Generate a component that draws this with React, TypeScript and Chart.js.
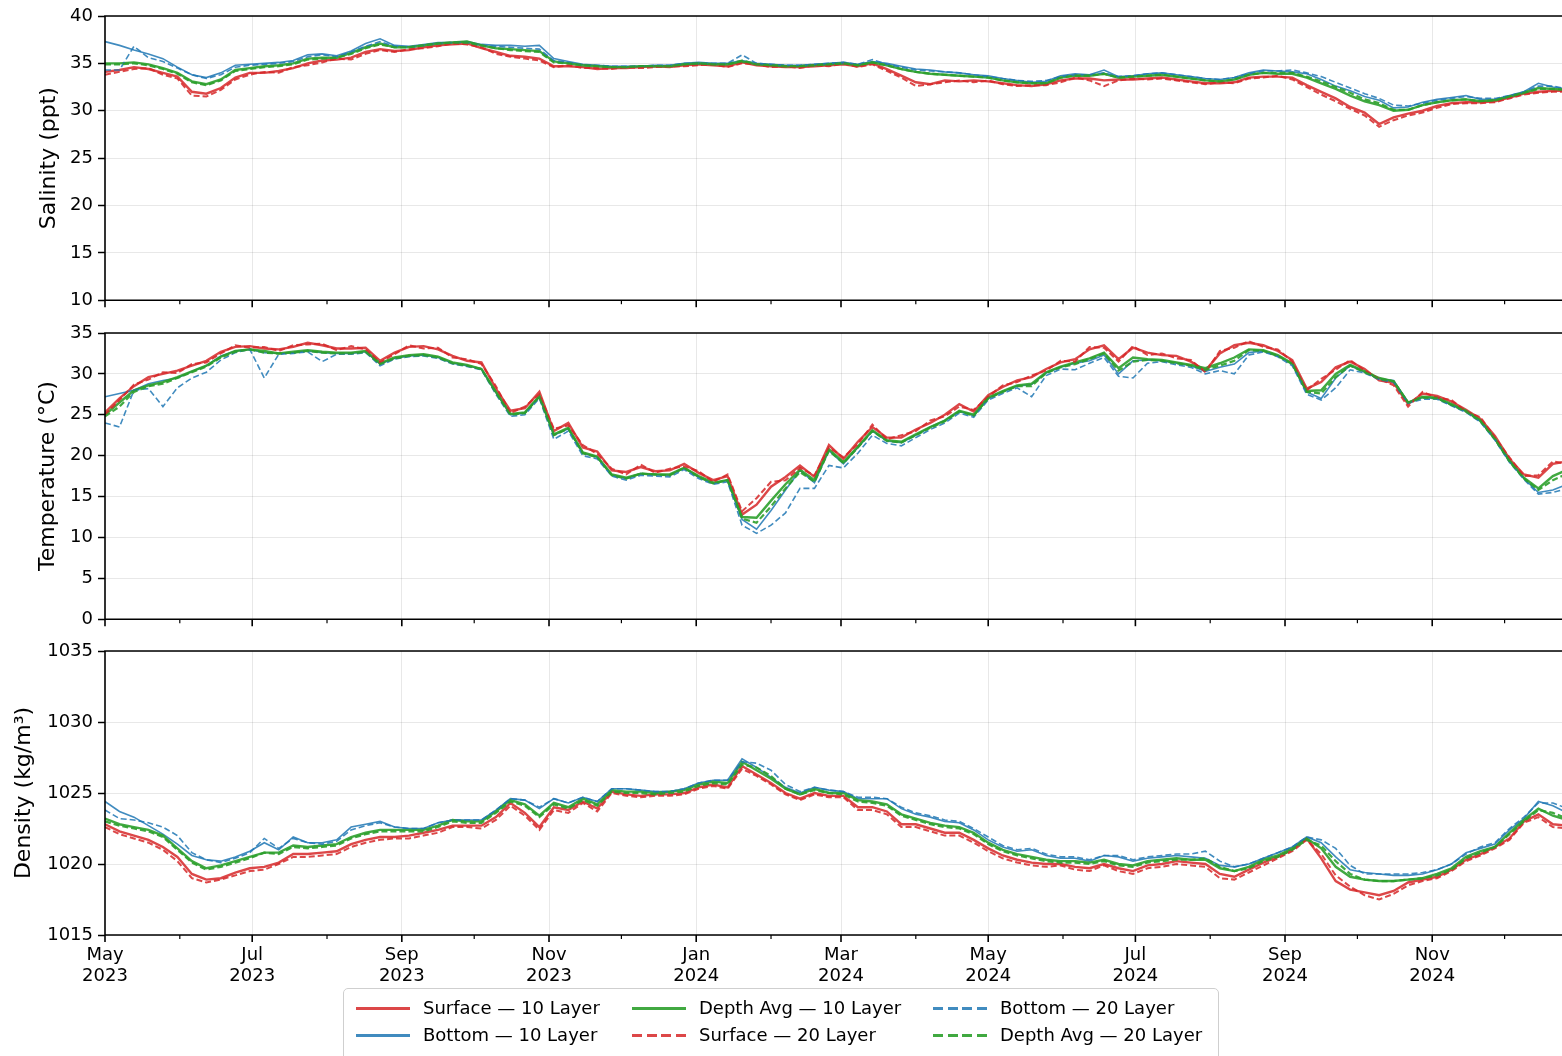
import React, { useEffect, useRef } from 'react';
import { Chart, registerables } from 'chart.js';

Chart.register(...registerables);

// ---------------- data ----------------
// sampling: every 6 days from 2023-05-01 (day 0) to day 612
const DAY_STEP = 6;
const N_POINTS = 103;
const DAYS: number[] = Array.from({ length: N_POINTS }, (_, i) => i * DAY_STEP);

// month starts (days since 2023-05-01) and their labels ('' = minor tick)
const MONTH_TICKS = [0, 31, 61, 92, 123, 153, 184, 214, 245, 276, 305, 336, 366, 397, 427, 458, 489, 519, 550, 580];
const MONTH_LABELS: (string | string[])[] = [
  ['May', '2023'], '', ['Jul', '2023'], '', ['Sep', '2023'], '', ['Nov', '2023'], '',
  ['Jan', '2024'], '', ['Mar', '2024'], '', ['May', '2024'], '', ['Jul', '2024'], '',
  ['Sep', '2024'], '', ['Nov', '2024'], '',
];
const X_MIN = 0;
const X_MAX = 610;

const SERIES_LABELS = [
  'Surface — 10 Layer', 'Bottom — 10 Layer', 'Depth Avg — 10 Layer',
  'Surface — 20 Layer', 'Bottom — 20 Layer', 'Depth Avg — 20 Layer',
];

// Salinity (ppt)
const SAL_SURF_10 = [
  34.1, 34.3, 34.6, 34.4, 34.0, 33.6, 32.0, 31.8, 32.4, 33.5,
  34.0, 34.0, 34.2, 34.5, 35.0, 35.3, 35.4, 35.6, 36.2, 36.5,
  36.3, 36.4, 36.7, 36.9, 37.0, 37.1, 36.6, 36.2, 35.8, 35.7,
  35.5, 34.7, 34.7, 34.6, 34.4, 34.5, 34.5, 34.6, 34.7, 34.6,
  34.8, 34.9, 34.8, 34.7, 35.1, 34.8, 34.7, 34.6, 34.6, 34.7,
  34.8, 34.9, 34.7, 35.0, 34.4, 33.7, 33.0, 32.8, 33.2, 33.1,
  33.2, 33.1, 32.9, 32.7, 32.6, 32.8, 33.2, 33.4, 33.4, 33.2,
  33.3, 33.3, 33.4, 33.5, 33.3, 33.1, 32.9, 32.9, 33.0, 33.5,
  33.6, 33.6, 33.5, 32.7, 32.0, 31.3, 30.4, 29.8, 28.6, 29.3,
  29.7, 30.0, 30.5, 30.8, 30.9, 30.9, 31.0, 31.4, 31.8, 32.0,
  32.1, 32.1, 32.1,
];
const SAL_BOT_10 = [
  37.3, 36.9, 36.4, 36.0, 35.5, 34.6, 33.8, 33.5, 34.0, 34.8,
  34.9, 35.0, 35.1, 35.3, 35.9, 36.0, 35.8, 36.3, 37.1, 37.6,
  36.9, 36.8, 37.0, 37.2, 37.2, 37.3, 37.0, 36.9, 36.9, 36.8,
  36.9, 35.5, 35.2, 34.9, 34.8, 34.7, 34.7, 34.7, 34.8, 34.8,
  35.0, 35.1, 35.0, 35.0, 35.3, 35.0, 34.9, 34.8, 34.8, 34.9,
  35.0, 35.1, 34.9, 35.2, 35.0, 34.7, 34.4, 34.3, 34.1, 34.0,
  33.8, 33.7, 33.4, 33.2, 33.0, 33.1, 33.7, 33.9, 33.8, 34.3,
  33.6, 33.7, 33.9, 34.0, 33.8, 33.6, 33.4, 33.3, 33.5, 34.0,
  34.3, 34.2, 34.1, 33.9, 33.3, 32.6, 32.1, 31.5, 31.1, 30.3,
  30.4, 30.9, 31.2, 31.4, 31.6, 31.2, 31.2, 31.6, 32.0, 32.9,
  32.5, 32.3, 32.3,
];
const SAL_AVG_10 = [
  35.0, 35.0, 35.1, 34.9, 34.5, 34.0, 33.1, 32.8, 33.3, 34.3,
  34.5, 34.7, 34.8, 35.0, 35.5, 35.6, 35.6, 36.1, 36.7, 37.1,
  36.7, 36.7, 36.9, 37.1, 37.2, 37.3, 36.9, 36.6, 36.5, 36.4,
  36.3, 35.2, 35.0, 34.8, 34.7, 34.6, 34.6, 34.7, 34.7, 34.7,
  34.9, 35.0, 34.9, 34.9, 35.2, 34.9, 34.8, 34.7, 34.7, 34.8,
  34.9, 35.0, 34.8, 35.1, 34.8, 34.4, 34.1, 33.9, 33.8, 33.7,
  33.6, 33.5, 33.2, 33.0, 32.9, 32.9, 33.5, 33.7, 33.7, 33.9,
  33.5, 33.6, 33.7, 33.8, 33.6, 33.4, 33.2, 33.1, 33.3, 33.8,
  34.0, 33.9, 33.9, 33.5, 32.9, 32.3, 31.6, 31.0, 30.6, 30.0,
  30.1, 30.6, 30.9, 31.1, 31.2, 31.0, 31.1, 31.5, 31.9, 32.4,
  32.3, 32.2, 32.2,
];
const SAL_SURF_20 = [
  33.8, 34.1, 34.4, 34.5, 33.8, 33.4, 31.6, 31.5, 32.2, 33.3,
  33.8, 34.1, 34.0, 34.6, 34.8, 35.1, 35.5, 35.4, 36.0, 36.4,
  36.2, 36.5, 36.6, 36.8, 37.1, 37.0, 36.7, 36.0, 35.7, 35.5,
  35.3, 34.6, 34.8, 34.5, 34.5, 34.4, 34.6, 34.5, 34.6, 34.7,
  34.7, 34.8, 34.9, 34.6, 35.0, 34.9, 34.6, 34.7, 34.5, 34.8,
  34.7, 35.0, 34.6, 34.9, 34.2, 33.5, 32.6, 32.8, 33.0, 33.2,
  33.0, 33.2, 32.8, 32.6, 32.7, 32.7, 33.0, 33.5, 33.2, 32.6,
  33.2, 33.4, 33.3, 33.4, 33.2, 33.0, 32.8, 33.0, 32.9, 33.4,
  33.5, 33.7, 33.3, 32.5, 31.7, 31.0, 30.2, 29.5, 28.3, 29.0,
  29.5, 29.8, 30.3, 30.7, 30.8, 30.8, 30.9, 31.3, 31.7, 31.9,
  32.0, 32.0, 32.0,
];
const SAL_BOT_20 = [
  34.3, 34.3, 36.8, 35.6, 35.2, 34.5, 33.8, 33.4, 33.8, 34.6,
  34.8, 34.9, 35.0, 35.2, 35.7, 35.9, 35.7, 36.2, 36.8, 37.3,
  36.8, 36.7, 36.9, 37.1, 37.2, 37.2, 36.9, 36.8, 36.7, 36.6,
  36.5, 35.3, 35.1, 34.8, 34.8, 34.7, 34.7, 34.7, 34.8, 34.8,
  35.0, 35.0, 35.0, 35.0, 35.9, 35.0, 34.9, 34.8, 34.8, 34.9,
  35.0, 35.1, 34.9, 35.4, 34.9, 34.6, 34.3, 34.2, 34.1, 34.0,
  33.8, 33.6, 33.4, 33.2, 33.1, 33.2, 33.6, 33.8, 33.8, 34.0,
  33.6, 33.7, 33.9, 34.0, 33.8, 33.6, 33.4, 33.3, 33.5, 33.9,
  34.2, 34.2, 34.3, 34.0, 33.6, 33.0, 32.4, 31.8, 31.3, 30.6,
  30.5, 30.8, 31.1, 31.3, 31.5, 31.3, 31.3, 31.6, 32.0, 32.6,
  32.6, 32.3, 32.3,
];
const SAL_AVG_20 = [
  34.9, 34.9, 35.0, 34.8, 34.4, 33.9, 33.0, 32.7, 33.2, 34.2,
  34.4, 34.6, 34.7, 34.9, 35.4, 35.5, 35.6, 36.0, 36.6, 37.0,
  36.7, 36.7, 36.9, 37.1, 37.2, 37.2, 36.9, 36.6, 36.4, 36.3,
  36.2, 35.1, 35.0, 34.8, 34.7, 34.6, 34.6, 34.7, 34.7, 34.7,
  34.9, 35.0, 34.9, 34.9, 35.3, 34.9, 34.8, 34.7, 34.7, 34.8,
  34.9, 35.0, 34.8, 35.1, 34.8, 34.4, 34.1, 33.9, 33.8, 33.7,
  33.6, 33.5, 33.2, 33.0, 32.9, 32.9, 33.5, 33.7, 33.7, 33.9,
  33.5, 33.6, 33.7, 33.8, 33.6, 33.4, 33.2, 33.1, 33.3, 33.8,
  34.0, 34.0, 34.0, 33.6, 33.1, 32.5, 31.9, 31.2, 30.8, 30.1,
  30.1, 30.6, 30.9, 31.1, 31.2, 31.0, 31.1, 31.5, 31.9, 32.3,
  32.3, 32.2, 32.2,
];

// Temperature (°C)
const TEMP_SURF_10 = [
  25.3, 27.0, 28.5, 29.6, 30.0, 30.4, 31.0, 31.6, 32.7, 33.3,
  33.4, 33.1, 33.0, 33.3, 33.8, 33.5, 33.1, 33.1, 33.2, 31.6,
  32.6, 33.3, 33.4, 33.0, 32.2, 31.6, 31.4, 28.2, 25.5, 25.8,
  27.8, 23.0, 24.0, 21.0, 20.5, 18.2, 18.0, 18.6, 18.1, 18.2,
  19.0, 17.9, 17.0, 17.5, 12.8, 14.0, 16.2, 17.4, 18.8, 17.4,
  21.3, 19.6, 21.7, 23.5, 22.2, 22.2, 23.2, 24.0, 25.0, 26.3,
  25.4, 27.4, 28.4, 29.2, 29.6, 30.6, 31.4, 31.8, 33.0, 33.5,
  31.8, 33.2, 32.6, 32.3, 32.2, 31.5, 30.4, 32.5, 33.5, 33.8,
  33.5, 32.8, 31.7, 28.2, 29.0, 30.8, 31.5, 30.6, 29.2, 28.9,
  26.3, 27.6, 27.3, 26.6, 25.6, 24.5, 22.4, 19.6, 17.7, 17.3,
  19.0, 19.3, 19.6,
];
const TEMP_BOT_10 = [
  27.2, 27.6, 28.0, 28.8, 29.2, 29.5, 30.3, 31.0, 32.2, 32.8,
  33.0, 32.6, 32.5, 32.6, 32.8, 32.6, 32.5, 32.5, 32.7, 31.2,
  31.9, 32.2, 32.3, 32.0, 31.3, 31.0, 30.6, 27.7, 25.0, 25.2,
  27.2, 22.5, 23.3, 20.3, 19.8, 17.6, 17.2, 17.8, 17.7, 17.6,
  18.5, 17.4, 16.6, 17.0, 12.2, 11.0, 13.3, 15.8, 18.2, 16.7,
  20.6, 19.0, 21.0, 23.0, 21.8, 21.6, 22.5, 23.5, 24.3, 25.4,
  24.9, 27.0, 27.8, 28.5, 28.7, 30.1, 30.8, 31.3, 31.6, 32.3,
  30.0, 31.6, 31.7, 31.6, 31.3, 31.0, 30.3, 30.8, 31.2, 32.6,
  32.8, 32.2, 31.2, 27.8, 27.0, 29.5, 31.0, 30.2, 29.4, 29.2,
  26.5, 27.1, 27.0, 26.2, 25.4, 24.2, 22.0, 19.3, 17.2, 15.5,
  15.8, 16.5, 17.0,
];
const TEMP_AVG_10 = [
  25.0, 26.5, 28.0, 28.6, 29.0, 29.6, 30.3, 31.0, 32.1, 32.8,
  33.0, 32.8, 32.5, 32.7, 32.9, 32.7, 32.6, 32.6, 32.8, 31.3,
  32.0, 32.3, 32.4, 32.1, 31.4, 31.1, 30.6, 27.8, 25.1, 25.3,
  27.3, 22.6, 23.4, 20.4, 19.9, 17.7, 17.3, 17.8, 17.7, 17.7,
  18.5, 17.5, 16.7, 17.0, 12.5, 12.4, 14.5, 16.5, 18.3, 17.0,
  20.8, 19.2, 21.1, 23.1, 21.9, 21.7, 22.6, 23.5, 24.3, 25.5,
  25.0, 27.1, 27.9, 28.6, 28.8, 30.2, 30.9, 31.4, 31.9, 32.6,
  30.7, 32.0, 31.8, 31.7, 31.4, 31.1, 30.7, 31.3, 32.0, 33.0,
  32.9, 32.3, 31.3, 27.9, 28.0, 30.0, 31.1, 30.3, 29.5, 29.1,
  26.5, 27.2, 27.1, 26.3, 25.5, 24.3, 22.1, 19.4, 17.3, 16.0,
  17.5, 18.3, 18.5,
];
const TEMP_SURF_20 = [
  25.0, 26.8, 28.7, 29.3, 30.2, 30.1, 31.2, 31.4, 32.5, 33.5,
  33.2, 33.3, 32.8, 33.5, 33.6, 33.7, 32.9, 33.4, 33.0, 31.4,
  32.4, 33.5, 33.1, 33.2, 32.0, 31.8, 31.2, 28.5, 25.2, 26.0,
  27.5, 23.3, 23.7, 21.3, 20.2, 18.4, 17.7, 18.9, 17.9, 18.4,
  18.7, 18.1, 16.8, 17.7, 13.2, 14.8, 16.8, 17.0, 18.5, 17.6,
  21.0, 19.8, 21.4, 23.8, 22.0, 22.5, 23.0, 24.3, 24.8, 26.0,
  25.6, 27.2, 28.6, 29.0, 29.8, 30.4, 31.6, 31.5, 33.3, 33.2,
  31.5, 33.4, 32.3, 32.5, 31.9, 31.7, 30.2, 32.8, 33.2, 34.0,
  33.3, 33.0, 31.5, 28.0, 29.4, 30.5, 31.7, 30.4, 29.4, 28.6,
  26.0, 27.8, 27.1, 26.8, 25.4, 24.7, 22.2, 19.8, 17.5, 17.6,
  19.3, 19.0, 19.8,
];
const TEMP_BOT_20 = [
  24.0, 23.5, 28.0, 28.2, 26.0, 28.3, 29.5, 30.2, 31.7, 32.6,
  33.0, 29.5, 32.4, 32.5, 32.7, 31.5, 32.4, 32.4, 32.6, 31.0,
  31.8, 32.1, 32.2, 31.9, 31.2, 30.9, 30.5, 27.5, 24.8, 25.0,
  27.0, 22.0, 23.0, 20.0, 19.6, 17.5, 17.0, 17.6, 17.5, 17.4,
  18.3, 17.2, 16.5, 16.8, 11.5, 10.5, 11.5, 13.0, 16.0, 16.0,
  18.8, 18.5, 20.3, 22.5, 21.5, 21.2, 22.2, 23.2, 24.0, 25.2,
  24.7, 26.8, 27.6, 28.3, 27.2, 29.8, 30.6, 30.5, 31.3, 32.0,
  29.7, 29.5, 31.3, 31.5, 31.1, 30.8, 30.0, 30.4, 30.0, 32.3,
  32.7, 32.1, 31.0, 27.5, 26.8, 28.3, 30.5, 30.1, 29.3, 29.0,
  26.4, 26.9, 26.9, 26.1, 25.3, 24.1, 21.9, 19.2, 17.1, 15.3,
  15.5, 16.0, 16.5,
];
const TEMP_AVG_20 = [
  24.8, 26.0, 27.8, 28.5, 28.8, 29.5, 30.2, 30.9, 32.0, 32.7,
  33.0, 32.6, 32.5, 32.6, 32.8, 32.6, 32.5, 32.5, 32.7, 31.2,
  31.9, 32.2, 32.3, 32.0, 31.3, 31.0, 30.6, 27.7, 25.0, 25.2,
  27.2, 22.5, 23.3, 20.3, 19.8, 17.6, 17.2, 17.8, 17.7, 17.6,
  18.5, 17.4, 16.6, 17.0, 12.3, 11.8, 13.8, 16.0, 18.0, 16.8,
  20.6, 19.1, 21.0, 23.0, 21.8, 21.6, 22.5, 23.4, 24.2, 25.4,
  24.9, 27.0, 27.8, 28.5, 28.5, 30.1, 30.8, 31.2, 31.8, 32.5,
  30.4, 31.5, 31.7, 31.6, 31.3, 31.0, 30.5, 31.0, 31.6, 32.9,
  32.8, 32.2, 31.2, 27.8, 27.6, 29.6, 31.0, 30.2, 29.4, 29.1,
  26.5, 27.1, 27.0, 26.2, 25.4, 24.2, 22.0, 19.3, 17.2, 15.8,
  17.0, 17.8, 18.2,
];

// Density (kg/m³)
const DEN_SURF_10 = [
  1022.8, 1022.3, 1022.0, 1021.7, 1021.2, 1020.5, 1019.3, 1018.9, 1019.0, 1019.4,
  1019.7, 1019.8, 1020.1, 1020.7, 1020.7, 1020.8, 1020.9, 1021.4, 1021.7, 1021.9,
  1021.9, 1022.0, 1022.2, 1022.4, 1022.7, 1022.7, 1022.7, 1023.3, 1024.3, 1023.6,
  1022.6, 1024.0, 1023.8, 1024.4, 1023.9, 1025.1, 1024.9, 1024.8, 1024.9, 1024.9,
  1025.0, 1025.4, 1025.6, 1025.4, 1026.9, 1026.3, 1025.7, 1025.0, 1024.6, 1025.0,
  1024.8, 1024.8, 1024.0, 1024.0, 1023.7, 1022.8, 1022.8, 1022.5, 1022.2, 1022.2,
  1021.7, 1021.1, 1020.6, 1020.3, 1020.1, 1020.0, 1020.0, 1019.8, 1019.7, 1020.0,
  1019.7, 1019.5, 1019.9, 1020.0, 1020.2, 1020.1, 1020.0, 1019.3, 1019.1, 1019.6,
  1020.1, 1020.5, 1021.0, 1021.8, 1020.4, 1018.8, 1018.2, 1018.0, 1017.8, 1018.1,
  1018.7, 1018.9, 1019.1, 1019.6, 1020.3, 1020.7, 1021.2, 1021.8, 1023.0, 1023.5,
  1022.8, 1022.7, 1022.6,
];
const DEN_BOT_10 = [
  1024.4, 1023.7, 1023.3, 1022.7, 1022.1, 1021.4, 1020.6, 1020.3, 1020.2, 1020.5,
  1020.9, 1021.5, 1021.0, 1021.9, 1021.5, 1021.5, 1021.7, 1022.6, 1022.8, 1023.0,
  1022.6, 1022.5, 1022.5, 1022.9, 1023.1, 1023.1, 1023.1, 1023.8, 1024.6, 1024.5,
  1023.9, 1024.6, 1024.3, 1024.7, 1024.4, 1025.3, 1025.3, 1025.2, 1025.1, 1025.1,
  1025.3, 1025.7, 1025.9, 1025.9, 1027.4, 1026.8, 1026.1, 1025.4, 1025.0, 1025.4,
  1025.2, 1025.1, 1024.6, 1024.6, 1024.6, 1023.9, 1023.5, 1023.3, 1023.0, 1022.9,
  1022.4, 1021.7, 1021.2, 1020.9, 1021.0, 1020.6, 1020.4, 1020.4, 1020.2, 1020.6,
  1020.5, 1020.2, 1020.4, 1020.5, 1020.6, 1020.5, 1020.4, 1019.9, 1019.8, 1020.0,
  1020.4, 1020.8, 1021.2, 1021.9, 1021.5, 1020.5, 1019.6, 1019.4, 1019.3, 1019.2,
  1019.2, 1019.3, 1019.6, 1020.0, 1020.8, 1021.1, 1021.4, 1022.4, 1023.2, 1024.4,
  1024.1, 1023.6, 1023.5,
];
const DEN_AVG_10 = [
  1023.2, 1022.8, 1022.6, 1022.4, 1022.0, 1021.1, 1020.2, 1019.7, 1019.9, 1020.2,
  1020.5, 1020.8, 1020.8, 1021.3, 1021.2, 1021.3, 1021.4, 1021.9, 1022.2, 1022.4,
  1022.4, 1022.4, 1022.4, 1022.7, 1023.1, 1023.0, 1023.0, 1023.7, 1024.5, 1024.2,
  1023.4, 1024.3, 1024.0, 1024.6, 1024.2, 1025.2, 1025.1, 1025.1, 1025.0, 1025.1,
  1025.2, 1025.6, 1025.8, 1025.7, 1027.2, 1026.6, 1026.0, 1025.3, 1024.9, 1025.3,
  1025.0, 1025.0, 1024.5, 1024.4, 1024.2, 1023.5, 1023.2, 1022.9, 1022.7, 1022.6,
  1022.2, 1021.5, 1021.0, 1020.7, 1020.5, 1020.3, 1020.2, 1020.2, 1020.1, 1020.3,
  1020.0, 1019.9, 1020.2, 1020.3, 1020.4, 1020.3, 1020.3, 1019.7, 1019.5, 1019.8,
  1020.3, 1020.6, 1021.1, 1021.8, 1021.1, 1019.8, 1019.1, 1018.9, 1018.8, 1018.8,
  1018.9, 1019.0, 1019.3, 1019.7, 1020.5, 1020.9, 1021.2, 1022.2, 1023.1, 1023.9,
  1023.4, 1023.1, 1023.0,
];
const DEN_SURF_20 = [
  1022.6, 1022.1, 1021.8, 1021.5, 1021.0, 1020.2, 1019.0, 1018.7, 1018.9, 1019.2,
  1019.5, 1019.6, 1020.0, 1020.5, 1020.5, 1020.6, 1020.7, 1021.2, 1021.5, 1021.7,
  1021.8, 1021.8, 1022.0, 1022.2, 1022.6, 1022.6, 1022.5, 1023.1, 1024.1, 1023.4,
  1022.4, 1023.8, 1023.6, 1024.3, 1023.7, 1025.0, 1024.8, 1024.7, 1024.8, 1024.8,
  1024.9, 1025.3, 1025.5, 1025.3, 1026.7, 1026.2, 1025.6, 1024.9, 1024.5, 1024.9,
  1024.7, 1024.7, 1023.8, 1023.8, 1023.5, 1022.6, 1022.6, 1022.3, 1022.0, 1022.0,
  1021.5, 1020.9, 1020.4, 1020.1, 1019.9, 1019.8, 1019.9, 1019.6, 1019.5, 1019.9,
  1019.5, 1019.3, 1019.7, 1019.8, 1020.0, 1019.9, 1019.8, 1019.0, 1018.9, 1019.4,
  1019.9, 1020.4, 1020.9, 1021.7, 1020.7, 1019.2, 1018.4, 1017.8, 1017.5, 1017.9,
  1018.5, 1018.8, 1019.0, 1019.5, 1020.2, 1020.6, 1021.1, 1021.7, 1022.9, 1023.3,
  1022.6, 1022.5, 1022.5,
];
const DEN_BOT_20 = [
  1023.8, 1023.2, 1023.1, 1022.9, 1022.6, 1022.0, 1020.8, 1020.3, 1020.1, 1020.4,
  1020.8, 1021.8, 1021.1, 1021.8, 1021.5, 1021.4, 1021.6, 1022.4, 1022.7, 1022.9,
  1022.6, 1022.5, 1022.5, 1022.9, 1023.1, 1023.1, 1023.1, 1023.8, 1024.6, 1024.5,
  1024.0, 1024.6, 1024.3, 1024.7, 1024.4, 1025.3, 1025.3, 1025.2, 1025.1, 1025.1,
  1025.3, 1025.7, 1025.9, 1025.9, 1027.2, 1027.1, 1026.6, 1025.6, 1025.1, 1025.4,
  1025.2, 1025.1, 1024.7, 1024.7, 1024.6, 1024.0, 1023.6, 1023.4, 1023.1, 1023.0,
  1022.5, 1021.9, 1021.3, 1021.0, 1021.1, 1020.7, 1020.5, 1020.5, 1020.3, 1020.6,
  1020.6, 1020.3, 1020.5, 1020.6, 1020.7, 1020.7, 1020.9, 1020.2, 1019.8, 1020.0,
  1020.4, 1020.8, 1021.2, 1021.9, 1021.7, 1021.1, 1019.9, 1019.3, 1019.3, 1019.3,
  1019.3, 1019.4, 1019.6, 1020.0, 1020.7, 1021.2, 1021.5, 1022.5, 1023.3, 1024.3,
  1024.3, 1023.9, 1023.7,
];
const DEN_AVG_20 = [
  1023.0, 1022.7, 1022.5, 1022.3, 1021.9, 1021.0, 1020.1, 1019.6, 1019.8, 1020.1,
  1020.4, 1020.8, 1020.7, 1021.2, 1021.1, 1021.2, 1021.3, 1021.8, 1022.1, 1022.3,
  1022.3, 1022.3, 1022.3, 1022.6, 1023.0, 1022.9, 1022.9, 1023.6, 1024.4, 1024.1,
  1023.3, 1024.2, 1023.9, 1024.5, 1024.1, 1025.1, 1025.0, 1025.0, 1024.9, 1025.0,
  1025.1, 1025.5, 1025.7, 1025.6, 1027.0, 1026.8, 1026.2, 1025.3, 1024.9, 1025.2,
  1025.0, 1024.9, 1024.4, 1024.3, 1024.1, 1023.4, 1023.1, 1022.8, 1022.6, 1022.5,
  1022.1, 1021.4, 1020.9, 1020.6, 1020.4, 1020.2, 1020.1, 1020.1, 1020.0, 1020.2,
  1019.9, 1019.8, 1020.1, 1020.2, 1020.3, 1020.3, 1020.4, 1019.8, 1019.5, 1019.7,
  1020.2, 1020.5, 1021.0, 1021.7, 1021.3, 1020.2, 1019.3, 1018.9, 1018.8, 1018.8,
  1018.9, 1019.0, 1019.2, 1019.6, 1020.4, 1020.8, 1021.2, 1022.1, 1023.0, 1023.8,
  1023.6, 1023.2, 1023.0,
];

// ---------------- styling ----------------
const FONT = "'DejaVu Sans', 'Liberation Sans', sans-serif";
const RED = 'rgba(214,39,40,0.85)';
const BLUE = 'rgba(31,119,180,0.85)';
const GREEN = 'rgba(44,160,44,0.9)';
const GRID = 'rgba(0,0,0,0.09)';
const DASH = [6, 3];
const CANVAS_W = 1600;
const PLOT_LEFT = 105;
const PLOT_RIGHT = 1577;

const STYLES = [
  { color: RED, dash: [] as number[], width: 2.4, order: 6 },
  { color: BLUE, dash: [] as number[], width: 1.6, order: 5 },
  { color: GREEN, dash: [] as number[], width: 2.4, order: 4 },
  { color: RED, dash: DASH, width: 2.0, order: 3 },
  { color: BLUE, dash: DASH, width: 1.6, order: 2 },
  { color: GREEN, dash: DASH, width: 2.2, order: 1 },
];

const framePlugin = {
  id: 'frame',
  afterDatasetsDraw(chart: any) {
    const { ctx, chartArea: a, scales } = chart;
    ctx.save();
    ctx.strokeStyle = '#000';
    ctx.lineWidth = 1.6;
    ctx.beginPath();
    ctx.moveTo(a.left, a.top);
    ctx.lineTo(a.right, a.top);
    ctx.lineTo(a.right, a.bottom);
    ctx.lineTo(a.left, a.bottom);
    ctx.closePath();
    ctx.stroke();
    const xs = scales.x;
    MONTH_TICKS.forEach((v, i) => {
      const px = xs.getPixelForValue(v);
      const major = i % 2 === 0;
      ctx.lineWidth = major ? 1.6 : 1.2;
      ctx.beginPath();
      ctx.moveTo(px, a.bottom);
      ctx.lineTo(px, a.bottom + (major ? 7 : 4));
      ctx.stroke();
    });
    ctx.restore();
  },
};

type PanelProps = {
  top: number;
  height: number;
  xHeight: number;
  padLeft: number;
  yMin: number;
  yMax: number;
  title: string;
  series: number[][];
  showLabels: boolean;
};

function Panel(p: PanelProps) {
  const ref = useRef<HTMLCanvasElement>(null);
  useEffect(() => {
    const datasets = p.series.map((arr, k) => ({
      label: SERIES_LABELS[k],
      data: DAYS.map((d, i) => ({ x: d, y: arr[i] })),
      borderColor: STYLES[k].color,
      backgroundColor: STYLES[k].color,
      borderWidth: STYLES[k].width,
      borderDash: STYLES[k].dash,
      order: STYLES[k].order,
      pointRadius: 0,
      tension: 0,
      fill: false,
      clip: 0,
    }));
    const chart = new Chart(ref.current as HTMLCanvasElement, {
      type: 'line',
      data: { datasets } as any,
      options: {
        animation: false,
        responsive: false,
        maintainAspectRatio: false,
        devicePixelRatio: 1,
        events: [],
        layout: { padding: { top: 16, left: p.padLeft, right: CANVAS_W - PLOT_RIGHT, bottom: 0 } },
        plugins: { legend: { display: false }, tooltip: { enabled: false }, title: { display: false } },
        scales: {
          x: {
            type: 'linear',
            min: X_MIN,
            max: X_MAX,
            afterBuildTicks: (s: any) => {
              s.ticks = MONTH_TICKS.map((v) => ({ value: v }));
            },
            afterFit: (s: any) => {
              s.height = p.xHeight;
            },
            ticks: {
              display: p.showLabels,
              autoSkip: false,
              maxRotation: 0,
              minRotation: 0,
              padding: 3,
              color: '#000',
              font: { family: FONT, size: 18, lineHeight: 1.17 },
              callback: (_v: any, i: number) => MONTH_LABELS[i],
            },
            grid: {
              drawTicks: true,
              tickLength: 7,
              tickColor: 'transparent',
              color: (c: any) => (c.index % 2 === 0 && c.index > 0 ? GRID : 'transparent'),
              lineWidth: 1,
            },
            border: { display: false },
          },
          y: {
            type: 'linear',
            min: p.yMin,
            max: p.yMax,
            afterFit: (s: any) => {
              s.width = PLOT_LEFT - p.padLeft;
            },
            ticks: {
              stepSize: 5,
              padding: 5,
              color: '#000',
              font: { family: FONT, size: 18 },
              callback: (v: any) => String(v),
            },
            title: {
              display: true,
              text: p.title,
              color: '#000',
              padding: 0,
              font: { family: FONT, size: 22 },
            },
            grid: {
              color: GRID,
              lineWidth: 1,
              tickColor: '#000',
              tickLength: 7,
              tickWidth: 1.5,
            },
            border: { display: false },
          },
        },
      } as any,
      plugins: [framePlugin],
    });
    return () => chart.destroy();
  }, []);
  return (
    <canvas
      ref={ref}
      width={CANVAS_W}
      height={p.height}
      style={{ position: 'absolute', left: 0, top: p.top, width: CANVAS_W, height: p.height }}
    />
  );
}

const LEGEND_ITEMS = [
  { k: 0, lineX: 356, textX: 423, y: 1008 },
  { k: 1, lineX: 356, textX: 423, y: 1035 },
  { k: 2, lineX: 632, textX: 699, y: 1008 },
  { k: 3, lineX: 632, textX: 699, y: 1035 },
  { k: 4, lineX: 933, textX: 1000, y: 1008 },
  { k: 5, lineX: 933, textX: 1000, y: 1035 },
];

function lineSample(color: string, dashed: boolean) {
  return dashed
    ? `repeating-linear-gradient(90deg, ${color} 0px, ${color} 10px, transparent 10px, transparent 14.7px)`
    : color;
}

export default function App() {
  return (
    <div
      style={{
        position: 'fixed',
        left: 0,
        top: 0,
        width: 1562,
        height: 1056,
        overflow: 'hidden',
        background: '#fff',
        fontFamily: FONT,
      }}
    >
      <Panel top={0} height={316} xHeight={14} padLeft={36} yMin={10} yMax={40} title="Salinity (ppt)"
        series={[SAL_SURF_10, SAL_BOT_10, SAL_AVG_10, SAL_SURF_20, SAL_BOT_20, SAL_AVG_20]} showLabels={false} />
      <Panel top={317} height={318} xHeight={14} padLeft={35} yMin={0} yMax={35} title="Temperature (°C)"
        series={[TEMP_SURF_10, TEMP_BOT_10, TEMP_AVG_10, TEMP_SURF_20, TEMP_BOT_20, TEMP_AVG_20]} showLabels={false} />
      <Panel top={635} height={360} xHeight={60} padLeft={11} yMin={1015} yMax={1035} title="Density (kg/m³)"
        series={[DEN_SURF_10, DEN_BOT_10, DEN_AVG_10, DEN_SURF_20, DEN_BOT_20, DEN_AVG_20]} showLabels={true} />
      <div
        style={{
          position: 'absolute',
          left: 343,
          top: 988,
          width: 876,
          height: 100,
          border: '1.5px solid #cfcfcf',
          borderRadius: 5,
          background: 'rgba(255,255,255,0.9)',
          boxSizing: 'border-box',
        }}
      />
      {LEGEND_ITEMS.map((it) => (
        <React.Fragment key={it.k}>
          <div
            style={{
              position: 'absolute',
              left: it.lineX,
              top: it.y - 1.5,
              width: 54,
              height: 3,
              background: lineSample(STYLES[it.k].color, STYLES[it.k].dash.length > 0),
            }}
          />
          <div
            style={{
              position: 'absolute',
              left: it.textX,
              top: it.y - 12,
              height: 24,
              lineHeight: '24px',
              fontSize: 18,
              color: '#000',
              whiteSpace: 'nowrap',
            }}
          >
            {SERIES_LABELS[it.k]}
          </div>
        </React.Fragment>
      ))}
    </div>
  );
}
